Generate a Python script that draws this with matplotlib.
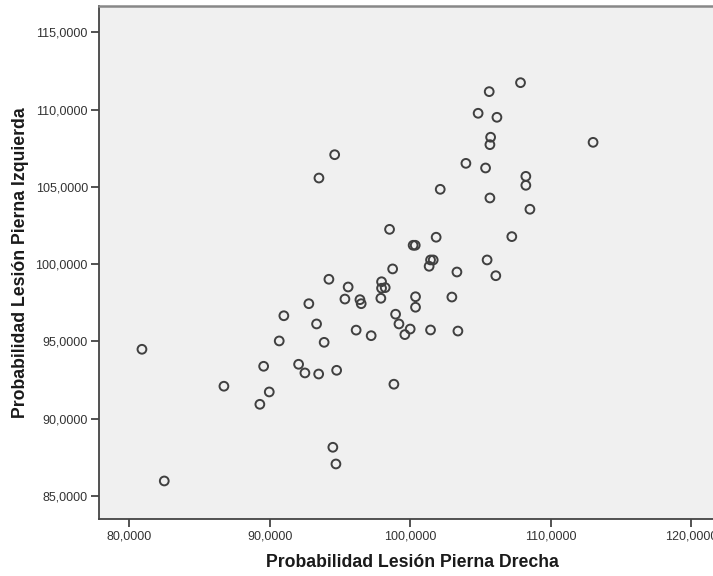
import matplotlib
matplotlib.use("Agg")
import matplotlib.pyplot as plt
from matplotlib.ticker import FuncFormatter

plt.rcParams['font.family'] = ['Liberation Sans', 'DejaVu Sans']

derecha = [80.89, 82.48, 86.73, 89.29, 89.56, 89.96, 90.67, 91.00, 92.05, 92.50,
           92.78, 93.33, 93.48, 93.87, 94.21, 94.49, 94.71, 94.76, 95.35, 95.58,
           96.15, 96.42, 96.51, 97.22, 97.91, 97.96, 97.96, 98.22, 98.53, 98.75,
           98.84, 98.96, 99.20, 99.62, 100.00, 100.21, 100.36, 100.38, 100.38, 101.35,
           101.45, 101.64, 101.45, 101.85, 102.14, 102.97, 103.33, 103.40, 103.97, 104.84,
           105.37, 105.48, 105.63, 105.68, 105.73, 105.68, 106.10, 106.18, 107.24, 107.86,
           108.24, 108.24, 108.53, 113.03, 94.62, 93.50]
izquierda = [94.49, 85.97, 92.10, 90.93, 93.39, 91.73, 95.03, 96.66, 93.52, 92.96,
             97.44, 96.13, 92.89, 94.94, 99.02, 88.15, 87.07, 93.13, 97.74, 98.52,
             95.73, 97.70, 97.44, 95.37, 97.79, 98.86, 98.44, 98.48, 102.25, 99.69,
             92.23, 96.76, 96.13, 95.44, 95.80, 101.22, 101.22, 97.89, 97.21, 99.86,
             100.27, 100.27, 95.74, 101.74, 104.84, 97.87, 99.49, 95.67, 106.52, 109.76,
             106.22, 100.27, 111.16, 107.73, 108.21, 104.28, 99.25, 109.50, 101.78, 111.74,
             105.68, 105.10, 103.55, 107.88, 107.08, 105.57]

x_ticks = [80, 90, 100, 110, 120]
y_ticks = [85, 90, 95, 100, 105, 110, 115]
x_label = "Probabilidad Lesión Pierna Drecha"
y_label = "Probabilidad Lesión Pierna Izquierda"

fig = plt.figure(figsize=(7.13, 5.76), dpi=100)
fig.patch.set_facecolor('white')
ax = fig.add_axes([99/713, (576-519.3)/576, (726-99)/713, (519.3-5.7)/576])
ax.set_facecolor('#f0f0f0')

ax.scatter(derecha, izquierda, s=40, facecolors='none', edgecolors='#404040', linewidths=1.4, zorder=3)

ax.set_xlim(77.83, 122.5)
ax.set_ylim(83.49, 116.72)
ax.set_xticks(x_ticks)
ax.set_yticks(y_ticks)
fmt = FuncFormatter(lambda v, p: f"{v:.4f}".replace('.', ','))
ax.xaxis.set_major_formatter(fmt)
ax.yaxis.set_major_formatter(fmt)

for side in ['left', 'bottom']:
    ax.spines[side].set_color('#444444')
    ax.spines[side].set_linewidth(1.3)
ax.spines['top'].set_color('#888888')
ax.spines['top'].set_linewidth(1.8)
ax.spines['right'].set_visible(False)

ax.tick_params(axis='both', direction='out', length=6, width=1.3, color='#444444',
               labelsize=9, labelcolor='#333333', pad=2)
ax.tick_params(top=False, right=False)

ax.set_xlabel(x_label, fontsize=12.7, fontweight='bold', color='#1a1a1a', labelpad=8)
ax.set_ylabel(y_label, fontsize=12.7, fontweight='bold', color='#1a1a1a', labelpad=5)

fig.savefig('out.png', dpi=100)
